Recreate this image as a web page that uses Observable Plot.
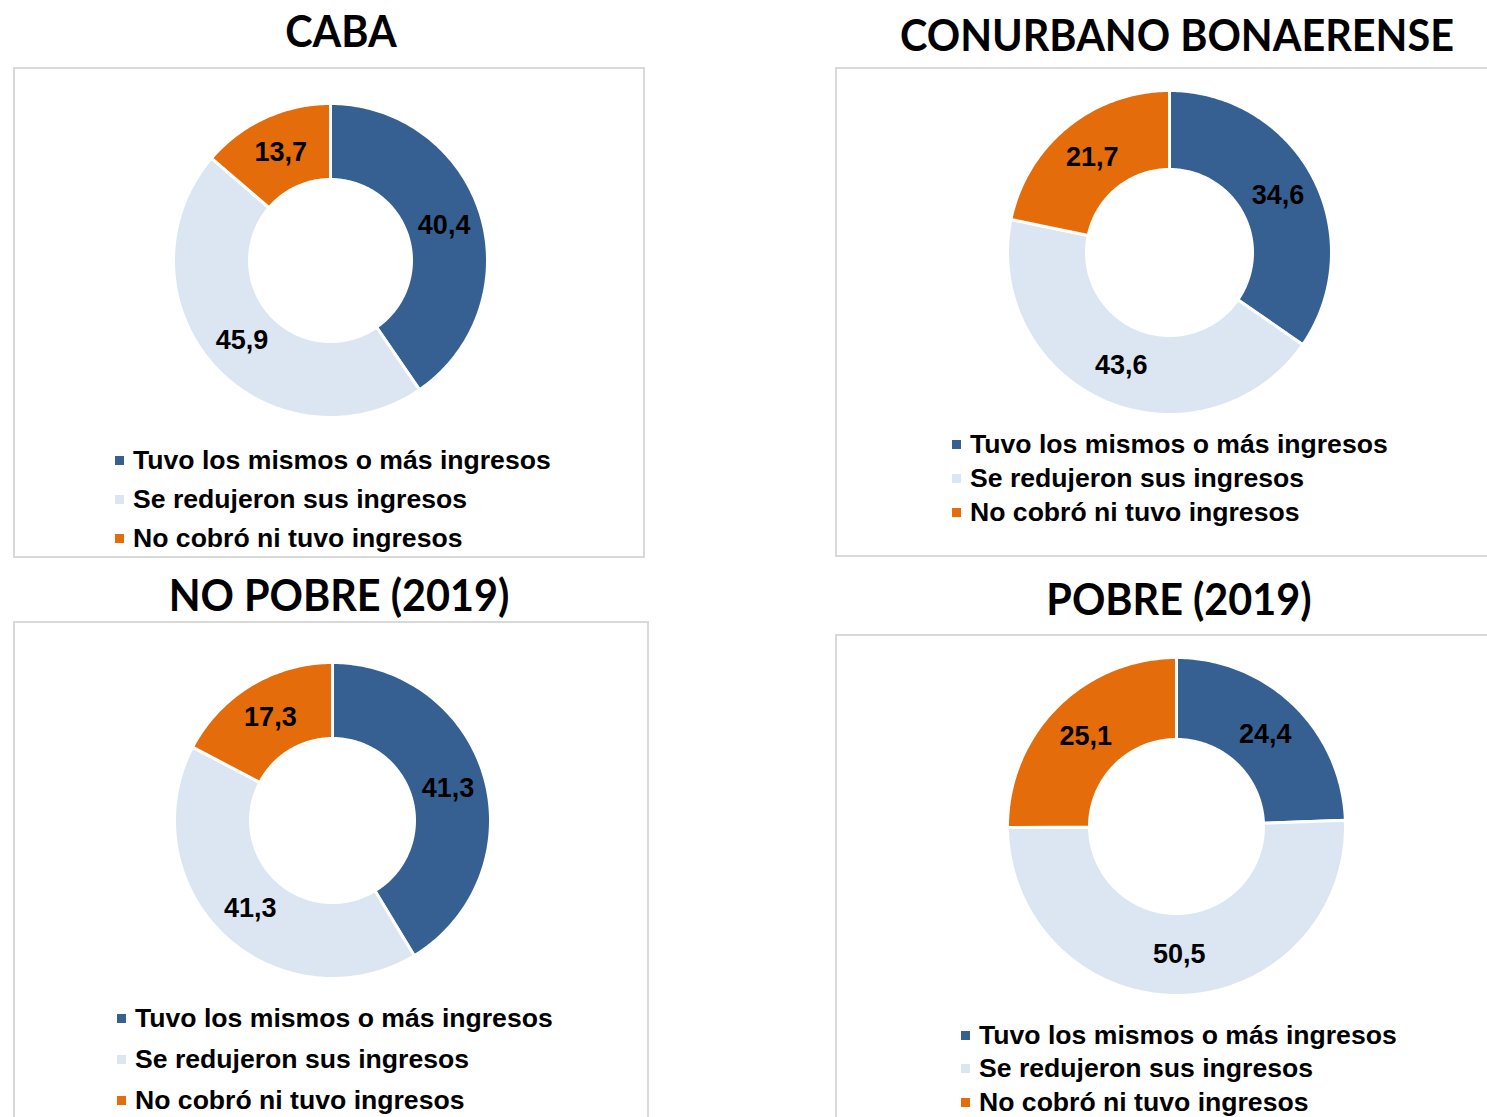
<!DOCTYPE html>
<html>
<head>
<meta charset="utf-8">
<script src="https://cdn.jsdelivr.net/npm/d3@7"></script>
<script src="https://cdn.jsdelivr.net/npm/@observablehq/plot@0.6"></script>
<style>
  html, body { margin: 0; padding: 0; background: #fff; }
  #page { position: relative; width: 1487px; height: 1117px; overflow: hidden; background: #fff; }
  .title { position: absolute; transform: translateX(-50%) scaleX(0.94); white-space: nowrap;
           font-family: Lato, "Open Sans", sans-serif; font-weight: 700; color: #000; line-height: 1; }
  .box { position: absolute; border: 2px solid #d9d9d9; box-sizing: border-box; }
  .donut { position: absolute; }
  .legend { position: absolute; font-family: "Liberation Sans", Arial, sans-serif; font-weight: 700;
            font-size: 26.6px; color: #000; }
  .legend .item { position: absolute; white-space: nowrap; display: flex; align-items: center; }
  .legend .sw { width: 9px; height: 9px; margin-right: 9px; display: inline-block; }
</style>
</head>
<body>
<div id="page"></div>
<script>
// ---- data ----
const categories = ["Tuvo los mismos o más ingresos", "Se redujeron sus ingresos", "No cobró ni tuvo ingresos"];
const titles = ["CABA", "CONURBANO BONAERENSE", "NO POBRE (2019)", "POBRE (2019)"];
const caba = [40.4, 45.9, 13.7];
const conurbano = [34.6, 43.6, 21.7];
const noPobre = [41.3, 41.3, 17.3];
const pobre = [24.4, 50.5, 25.1];

// ---- styles / layout ----
const colors = ["#376092", "#dce6f2", "#e46c0a"];
const panels = [
  {title: titles[0], values: caba,
   titleX: 341, titleY: 8, titleSize: 44,
   box: {x: 13, y: 67, w: 632, h: 491},
   cx: 330, cy: 260, R: 157, r: 81,
   legX: 115, legY: 460, legStep: 39},
  {title: titles[1], values: conurbano,
   titleX: 1177, titleY: 12, titleSize: 44,
   box: {x: 835, y: 67, w: 660, h: 490},
   cx: 1169, cy: 252, R: 162, r: 83,
   legX: 952, legY: 444, legStep: 34},
  {title: titles[2], values: noPobre,
   titleX: 339, titleY: 572, titleSize: 44,
   box: {x: 13, y: 621, w: 636, h: 520},
   cx: 332, cy: 820, R: 158, r: 82,
   legX: 117, legY: 1018, legStep: 41},
  {title: titles[3], values: pobre,
   titleX: 1179, titleY: 576, titleSize: 44,
   box: {x: 835, y: 634, w: 660, h: 520},
   cx: 1176, cy: 826, R: 169, r: 87,
   legX: 961, legY: 1035, legStep: 33.5}
];

const page = document.getElementById("page");

function fmt(v) { return d3.format(".1f")(v).replace(".", ","); }

for (const p of panels) {
  // title
  const t = document.createElement("div");
  t.className = "title";
  t.textContent = p.title;
  t.style.left = p.titleX + "px";
  t.style.top = p.titleY + "px";
  t.style.fontSize = p.titleSize + "px";
  page.appendChild(t);

  // box
  const b = document.createElement("div");
  b.className = "box";
  Object.assign(b.style, {left: p.box.x + "px", top: p.box.y + "px", width: p.box.w + "px", height: p.box.h + "px"});
  page.appendChild(b);

  // donut geometry from data via d3.pie
  const rows = categories.map((c, i) => ({category: c, value: p.values[i]}));
  const arcs = d3.pie().sort(null).value(d => d.value)(rows);
  const pts = [];
  const labels = [];
  for (const a of arcs) {
    const n = Math.max(8, Math.ceil((a.endAngle - a.startAngle) * 60));
    for (let k = 0; k <= n; k++) {
      const ang = a.startAngle + (a.endAngle - a.startAngle) * k / n;
      pts.push({category: a.data.category, x: p.R * Math.sin(ang), y: p.R * Math.cos(ang)});
    }
    for (let k = n; k >= 0; k--) {
      const ang = a.startAngle + (a.endAngle - a.startAngle) * k / n;
      pts.push({category: a.data.category, x: p.r * Math.sin(ang), y: p.r * Math.cos(ang)});
    }
    const mid = (a.startAngle + a.endAngle) / 2, rm = (p.R + p.r) / 2;
    labels.push({x: rm * Math.sin(mid), y: rm * Math.cos(mid), text: fmt(a.data.value)});
  }
  const half = p.R + 4;
  const size = 2 * half;
  const chart = Plot.plot({
    width: size, height: size,
    margin: 0,
    x: {domain: [-half, half], axis: null},
    y: {domain: [-half, half], axis: null},
    color: {domain: categories, range: colors},
    style: {background: "transparent", overflow: "visible"},
    marks: [
      Plot.line(pts, {x: "x", y: "y", z: "category", fill: "category", stroke: "white", strokeWidth: 3, curve: "linear-closed"}),
      Plot.text(labels, {x: "x", y: "y", text: "text", fill: "black", fontSize: 27, fontWeight: "bold",
                         fontFamily: "Liberation Sans, Arial, sans-serif"})
    ]
  });
  chart.classList.add("donut");
  chart.style.left = (p.cx - half) + "px";
  chart.style.top = (p.cy - half) + "px";
  page.appendChild(chart);

  // legend
  const leg = document.createElement("div");
  leg.className = "legend";
  leg.style.left = p.legX + "px";
  leg.style.top = "0px";
  categories.forEach((c, i) => {
    const it = document.createElement("div");
    it.className = "item";
    it.style.left = "0px";
    it.style.top = (p.legY + i * p.legStep - 15) + "px";
    it.style.height = "30px";
    const sw = document.createElement("span");
    sw.className = "sw";
    sw.style.background = colors[i];
    it.appendChild(sw);
    const tx = document.createElement("span");
    tx.textContent = c;
    it.appendChild(tx);
    leg.appendChild(it);
  });
  page.appendChild(leg);
}
</script>
</body>
</html>
